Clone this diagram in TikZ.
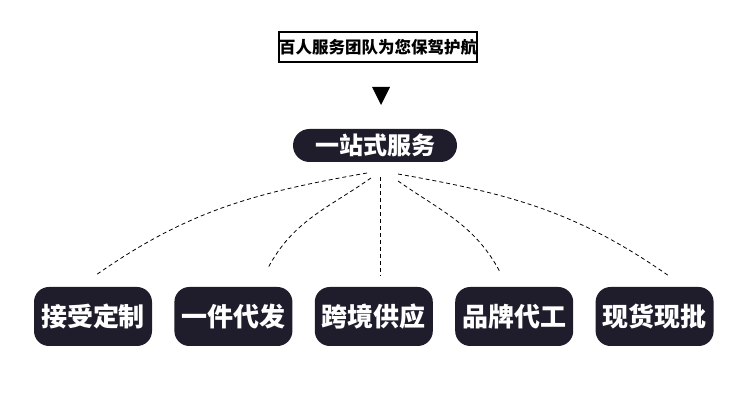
\documentclass[tikz,border=0pt]{standalone}
\usepackage{fontspec}
\newfontfamily\cjk{Noto Sans CJK SC}
\usepackage{xcolor}
\usetikzlibrary{arrows.meta, positioning, calc}
\definecolor{boxdark}{HTML}{1F1D2B}

\begin{document}
\begin{tikzpicture}[
  x=1pt, y=1pt,
  node distance=22pt,
  titlebox/.style={rectangle, draw=black, line width=1.3pt, minimum width=198pt, minimum height=30pt, inner sep=0pt, font=\cjk\bfseries\fontsize{16.5}{18}\selectfont},
  hubbox/.style={rectangle, fill=boxdark, rounded corners=16.5pt, minimum width=164pt, minimum height=33pt, inner sep=0pt, text=white, font=\cjk\bfseries\fontsize{24}{26}\selectfont},
  itembox/.style={rectangle, fill=boxdark, rounded corners=15pt, minimum width=118pt, minimum height=59pt, inner sep=0pt, text=white, font=\cjk\bfseries\fontsize{26}{28}\selectfont},
  link/.style={dashed, dash pattern=on 4pt off 3pt, line width=0.8pt, black},
]
  \useasboundingbox (0,0) rectangle (750,401);

  \node[titlebox] (title) at (378,354) {百人服务团队为您保驾护航};
  \fill (372,314) -- (390,314) -- (381,296) -- cycle;
  \node[hubbox] (hub) at (375,255.5) {一站式服务};

  \node[itembox] (b1) at (93,84.5) {接受定制};
  \node[itembox, right=of b1] (b2) {一件代发};
  \node[itembox, right=of b2] (b3) {跨境供应};
  \node[itembox, right=of b3] (b4) {品牌代工};
  \node[itembox, right=of b4] (b5) {现货现批};

  % free ends of the dashed links
  \coordinate (s1) at (367,228);
  \coordinate (s2) at (371,223);
  \coordinate (s3) at (380,224);
  \coordinate (s4) at (398,220);
  \coordinate (s5) at (398,227);
  \coordinate (e1) at (96,126);
  \coordinate (e2) at (268,133);
  \coordinate (e3) at (380,125);
  \coordinate (e4) at (500,129);
  \coordinate (e5) at (669,125);

  \draw[link] (s1) to[out=190, in=35] (e1);
  \draw[link] (s2) to[out=215, in=62] (e2);
  \draw[link] (s3) -- (e3);
  \draw[link] (s4) to[out=-35, in=118] (e4);
  \draw[link] (s5) to[out=-10, in=145] (e5);
\end{tikzpicture}
\end{document}
